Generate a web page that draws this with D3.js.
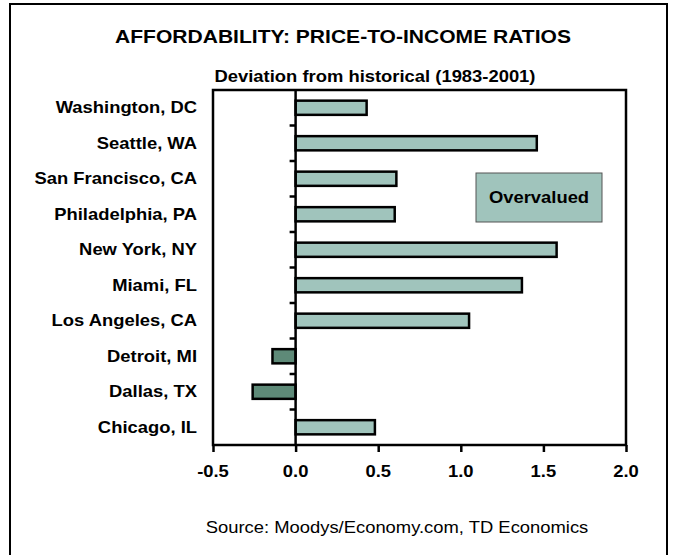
<!DOCTYPE html>
<html>
<head>
<meta charset="utf-8">
<script src="https://cdnjs.cloudflare.com/ajax/libs/d3/7.8.5/d3.min.js"></script>
<style>
  body { margin: 0; background: #fff; }
  text { font-family: Arial, "Liberation Sans", sans-serif; fill: #000; }
</style>
</head>
<body>
<div id="chart"></div>
<script>
// city names, top to bottom
var cities = ["Washington, DC", "Seattle, WA", "San Francisco, CA", "Philadelphia, PA", "New York, NY",
  "Miami, FL", "Los Angeles, CA", "Detroit, MI", "Dallas, TX", "Chicago, IL"];
// deviation of price-to-income ratio from 1983-2001 average
var ratios = [0.43, 1.46, 0.61, 0.60, 1.58, 1.37, 1.05, -0.14, -0.26, 0.48];
var xTicks = [-0.5, 0.0, 0.5, 1.0, 1.5, 2.0];

var W = 678, H = 555;
var plot = { left: 213, right: 626, top: 90, bottom: 445 };
// the original picture has its text a little stretched sideways
var stretch = 1.15;

var svg = d3.select("#chart").append("svg").attr("width", W).attr("height", H);

var x = d3.scaleLinear().domain([-0.5, 2.0]).range([plot.left, plot.right]);
var y = d3.scaleBand().domain(cities).range([plot.top, plot.bottom]).paddingInner(0.6).paddingOuter(0.3);

//helper for stretched text
function label(txt, px, py, size, weight, anchor) {
  return svg.append("text")
    .attr("transform", "translate(" + px + "," + py + ") scale(" + stretch + ",1)")
    .attr("text-anchor", anchor || "middle")
    .style("font-size", size + "px")
    .style("font-weight", weight)
    .text(txt);
}

//outer border
svg.append("rect").attr("x", 10).attr("y", 4).attr("width", 657).attr("height", 570)
  .attr("fill", "none").attr("stroke", "#000").attr("stroke-width", 2);

label("AFFORDABILITY: PRICE-TO-INCOME RATIOS", 343, 43, 18.3, "bold");
label("Deviation from historical (1983-2001)", 375, 82, 16, "bold");
label("Source: Moodys/Economy.com, TD Economics", 397, 533, 16, "normal");

//plot frame
svg.append("rect").attr("x", plot.left).attr("y", plot.top)
  .attr("width", plot.right - plot.left).attr("height", plot.bottom - plot.top)
  .attr("fill", "none").attr("stroke", "#000").attr("stroke-width", 2.5);

//bars
svg.selectAll(".bar").data(ratios).enter().append("rect").attr("class", "bar")
  .attr("x", function (d) { return x(Math.min(0, d)); })
  .attr("y", function (d, i) { return y(cities[i]); })
  .attr("width", function (d) { return Math.abs(x(d) - x(0)); })
  .attr("height", y.bandwidth())
  .attr("fill", function (d) { return d < 0 ? "#5e8a78" : "#a0c4bc"; })
  .attr("stroke", "#000").attr("stroke-width", 2.5);

//zero line with category ticks between bands
svg.append("line").attr("x1", x(0)).attr("x2", x(0)).attr("y1", plot.top).attr("y2", plot.bottom)
  .attr("stroke", "#000").attr("stroke-width", 2.5);
svg.selectAll(".ytick").data(cities.slice(1)).enter().append("line").attr("class", "ytick")
  .attr("x1", x(0) - 6).attr("x2", x(0))
  .attr("y1", function (d) { return y(d) - y.step() * y.paddingInner() / 2; })
  .attr("y2", function (d) { return y(d) - y.step() * y.paddingInner() / 2; })
  .attr("stroke", "#000").attr("stroke-width", 2.5);

//category labels
cities.forEach(function (c) {
  label(c, 197, y(c) + y.bandwidth() / 2 + 5.5, 16, "bold", "end");
});

//x axis
var xAxis = d3.axisBottom(x).tickValues(xTicks).tickSize(7).tickSizeOuter(0)
  .tickFormat(function (d) { return d.toFixed(1); });
var xg = svg.append("g").attr("transform", "translate(0," + plot.bottom + ")").call(xAxis);
xg.select(".domain").remove();
xg.selectAll(".tick line").attr("stroke", "#000").attr("stroke-width", 2.5);
xg.selectAll(".tick text").remove();
xTicks.forEach(function (t) {
  label(t.toFixed(1), x(t), 477, 16, "bold");
});

//overvalued box
svg.append("rect").attr("x", 476).attr("y", 173).attr("width", 126).attr("height", 49)
  .attr("fill", "#a0c4bc").attr("stroke", "#555").attr("stroke-width", 1);
label("Overvalued", 539, 203, 16, "bold");
</script>
</body>
</html>
